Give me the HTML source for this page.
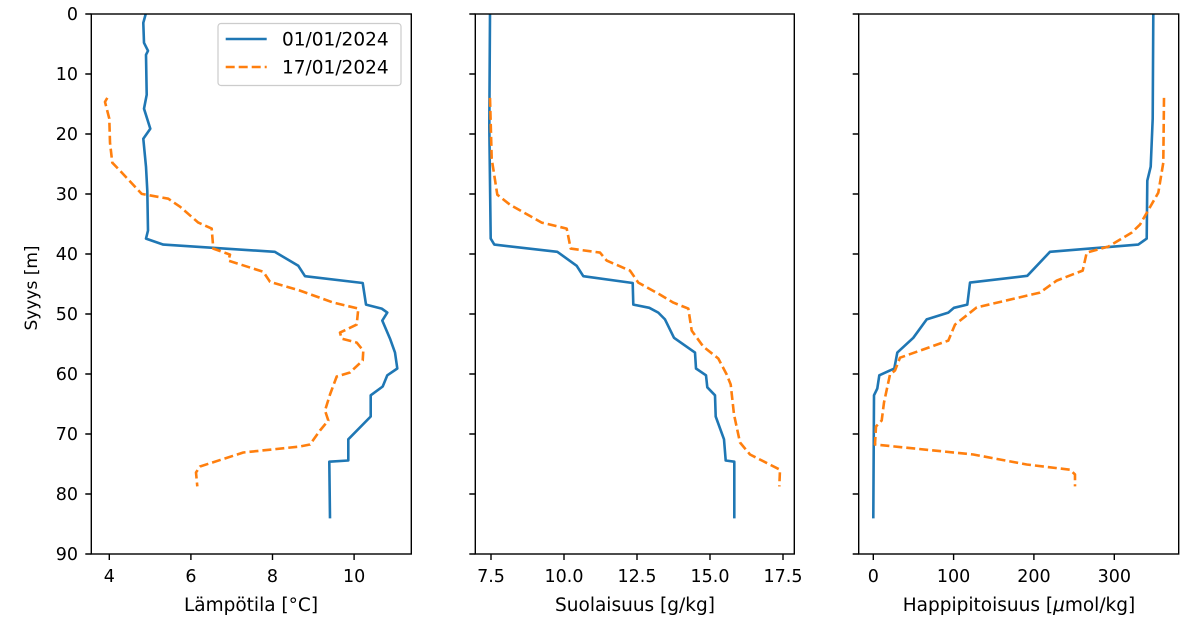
<!DOCTYPE html>
<html><head><meta charset="utf-8"><style>body{margin:0;background:#fff}svg{display:block}text{font-family:"DejaVu Sans","Liberation Sans",sans-serif;fill:#000}</style></head><body>
<svg width="1200" height="626" viewBox="0 0 1200 626" xmlns="http://www.w3.org/2000/svg">
<g fill="none" stroke-linejoin="round">
<polyline stroke="#1f77b4" stroke-width="2.6" points="145.7,14 143.3,22.8 144,42.8 148,50.8 146,54.8 146.7,94.7 144,108.7 150.3,128.7 143.3,138.7 146,166.7 147.3,190.7 148,230.6 146,238.6 163.3,244.6 274.7,251.8 298.3,265.8 305,276.2 362.7,283 366,304.6 381.7,308.6 387.3,312.6 382.3,320.6 390,338.6 395,352.6 397.3,368.5 387.3,375.3 382.7,386.5 370.7,395.3 370.7,416.5 348.3,439.3 348.3,460.5 329.3,461.7 330,518.4"/>
<polyline stroke="#ff7f0e" stroke-width="2.6" stroke-dasharray="9,4" points="107.3,97.9 105,101.9 109.3,118.7 110,142.7 112.3,162.7 120,170.7 141.7,193.9 168.3,198.7 180,206.7 198.3,222.6 211.7,228.6 213.3,248.6 230,254.6 228.3,260.6 263.3,271.8 270,281.8 300,290.6 333.3,302.6 358.3,308.6 356.7,324.6 340,332.6 341.7,338.6 356.7,342.6 363.3,350.6 362.7,360.5 350,372.5 336.7,376.5 330,394.5 325,410.5 328.3,420.5 320,430.5 310,444.5 300,446.5 243.3,452.5 200,466.5 196,472.5 197.3,486.4"/>
<polyline stroke="#1f77b4" stroke-width="2.6" points="490,14 489.3,126.7 490.7,238.6 494.3,244.6 557.3,251.8 576.7,265.8 583.3,276.2 632.7,283 633.3,304.6 649.3,307.8 658.3,312.6 665,319.4 674,337.8 695,352.6 696,368.5 706,375.3 707.3,387.3 715,395.3 715.7,416.5 724,439.3 725.7,460.5 734.3,461.7 734.3,518.4"/>
<polyline stroke="#ff7f0e" stroke-width="2.6" stroke-dasharray="9,4" points="490,97.9 491.7,158.7 497.3,194.7 510,204.7 541.7,222.6 566.7,228.6 570.7,248.6 600,252.6 606.7,260.6 630,270.6 638.3,282.6 660,294.6 673.3,302.6 688.3,308.6 691.7,330.6 703.3,346.6 718.3,358.5 726.7,374.5 730.7,384.5 734,414.5 740,442.5 750,454.5 780,469.7 779.3,486.4"/>
<polyline stroke="#1f77b4" stroke-width="2.6" points="1153.3,14 1152.7,118.7 1150.7,166.7 1147.3,180.7 1146.7,238.6 1138.3,244.6 1050,251.8 1027.3,275.8 970,282.6 967.3,304.6 954,307.8 948.3,312.6 926.7,319.4 913.3,337.8 897.3,352.6 894.3,368.5 879.3,375.3 877.3,388.5 874,395.3 873.3,518.4"/>
<polyline stroke="#ff7f0e" stroke-width="2.6" stroke-dasharray="9,4" points="1164,97.9 1163.3,162.7 1158.3,192.7 1140,224.6 1131.7,232.6 1108.3,246.6 1086.7,252.6 1082.7,270.6 1056.7,280.6 1040,292.6 976.7,307.4 955,324.6 948.3,340.6 900,357.7 895,370.5 890,374.5 884,402.5 881.7,420.5 876,426.5 875,444.5 973.3,454.5 1026.7,464.5 1070,469.7 1075,474.5 1075,486.4"/>
</g>
<g fill="none" stroke="#000" stroke-width="1.4">
<rect x="91.3" y="14" width="320" height="540"/>
<rect x="475.3" y="14" width="319" height="540"/>
<rect x="858.7" y="14" width="320" height="540"/>
<path d="M91.3 14h-6M91.3 74h-6M91.3 134h-6M91.3 194h-6M91.3 254h-6M91.3 314h-6M91.3 374h-6M91.3 434h-6M91.3 494h-6M91.3 554h-6
M475.3 14h-6M475.3 74h-6M475.3 134h-6M475.3 194h-6M475.3 254h-6M475.3 314h-6M475.3 374h-6M475.3 434h-6M475.3 494h-6M475.3 554h-6
M858.7 14h-6M858.7 74h-6M858.7 134h-6M858.7 194h-6M858.7 254h-6M858.7 314h-6M858.7 374h-6M858.7 434h-6M858.7 494h-6M858.7 554h-6
M109.3 554v6M190.9 554v6M272.5 554v6M354.1 554v6
M491 554v6M564 554v6M637 554v6M710 554v6M783 554v6
M873.3 554v6M953.6 554v6M1033.9 554v6M1114.3 554v6"/>
</g>
<g font-size="17.5" text-anchor="end">
<text x="78" y="20">0</text><text x="78" y="80">10</text><text x="78" y="140">20</text><text x="78" y="200">30</text><text x="78" y="260">40</text><text x="78" y="320">50</text><text x="78" y="380">60</text><text x="78" y="440">70</text><text x="78" y="500">80</text><text x="78" y="560">90</text>
</g>
<g font-size="17.5" text-anchor="middle">
<text x="109.3" y="582">4</text><text x="190.9" y="582">6</text><text x="272.5" y="582">8</text><text x="354.1" y="582">10</text>
<text x="491" y="582">7.5</text><text x="564" y="582">10.0</text><text x="637" y="582">12.5</text><text x="710" y="582">15.0</text><text x="783" y="582">17.5</text>
<text x="873.3" y="582">0</text><text x="953.6" y="582">100</text><text x="1033.9" y="582">200</text><text x="1114.3" y="582">300</text>
<text x="251" y="611" font-size="18.5">Lämpötila [°C]</text>
<text x="635" y="611" font-size="18.5">Suolaisuus [g/kg]</text>
<text x="1019" y="611" font-size="18.5">Happipitoisuus [<tspan font-style="italic">μ</tspan>mol/kg]</text>
<text transform="translate(37,288) rotate(-90)" font-size="17">Syyys [m]</text>
</g>
<rect x="218" y="23.5" width="183" height="62" rx="3" fill="#fff" fill-opacity="0.8" stroke="#ccc" stroke-width="1.2"/>
<line x1="225.7" y1="39" x2="266.7" y2="39" stroke="#1f77b4" stroke-width="2.6"/>
<line x1="225.7" y1="67" x2="266.7" y2="67" stroke="#ff7f0e" stroke-width="2.6" stroke-dasharray="9,4"/>
<text x="282" y="45.5" font-size="18.5">01/01/2024</text>
<text x="282" y="73.5" font-size="18.5">17/01/2024</text>
</svg>
</body></html>
